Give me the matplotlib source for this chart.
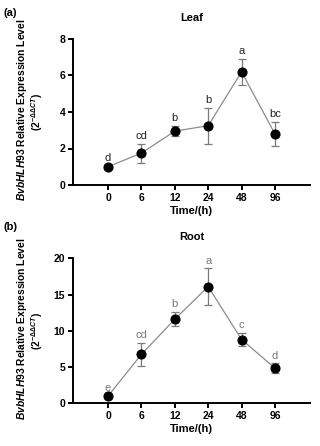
import matplotlib
matplotlib.use("Agg")
import matplotlib.pyplot as plt
import numpy as np

times = ["0", "6", "12", "24", "48", "96"]
leaf_mean = [1.0, 1.75, 2.95, 3.25, 6.2, 2.8]
leaf_err = [0.05, 0.52, 0.28, 0.98, 0.7, 0.65]
leaf_letters = ["d", "cd", "b", "b", "a", "bc"]
root_mean = [1.0, 6.75, 11.6, 16.1, 8.8, 4.85]
root_err = [0.1, 1.55, 1.0, 2.5, 0.9, 0.65]
root_letters = ["e", "cd", "b", "a", "c", "d"]

plt.rcParams['font.family'] = ['Liberation Sans', 'DejaVu Sans']
plt.rcParams['mathtext.fontset'] = 'custom'
plt.rcParams['mathtext.rm'] = 'Liberation Sans:bold'
plt.rcParams['mathtext.it'] = 'Liberation Sans:italic:bold'
plt.rcParams['mathtext.bf'] = 'Liberation Sans:bold'

fig = plt.figure(figsize=(3.2, 4.46), dpi=100)
W, H = 320, 446

def make_axes(top_px, bot_px):
    return fig.add_axes([73 / W, 1 - bot_px / H, (310 - 73) / W, (bot_px - top_px) / H])

panels = [
    (make_axes(39, 185), leaf_mean, leaf_err, leaf_letters, "Leaf", (0, 8), [0, 2, 4, 6, 8], "#222222", "(a)", 13),
    (make_axes(258.3, 403.3), root_mean, root_err, root_letters, "Root", (0, 20), [0, 5, 10, 15, 20], "#777777", "(b)", 227),
]

x = np.arange(len(times))
for ax, mean, err, letters, title, ylim, yticks, lcol, tag, tag_y in panels:
    ax.errorbar(x, mean, yerr=err, fmt='o', color='black', ecolor='#7a7a7a',
                elinewidth=0.9, capsize=3.2, capthick=0.9, markersize=6.3, zorder=3)
    ax.plot(x, mean, color='#8c8c8c', lw=0.9, zorder=2)
    for xi, m, e, lt in zip(x, mean, err, letters):
        ax.annotate(lt, (xi, m + e), xytext=(0, 2), textcoords='offset points',
                    ha='center', va='bottom', fontsize=8, color=lcol)
    ax.set_xlim(-1.05, 6.05)
    ax.set_ylim(*ylim)
    ax.set_yticks(yticks)
    ax.set_xticks(x)
    ax.set_xticklabels(times)
    for s in ['top', 'right']:
        ax.spines[s].set_visible(False)
    for s in ['left', 'bottom']:
        ax.spines[s].set_linewidth(1.4)
    ax.tick_params(direction='out', length=3.5, width=1.4, labelsize=7.5, pad=2)
    for lab in ax.get_xticklabels() + ax.get_yticklabels():
        lab.set_fontweight('bold')
    ax.set_title(title, fontsize=8, fontweight='bold', pad=13)
    ax.set_xlabel("Time/(h)", fontsize=8, fontweight='bold', labelpad=2.5)
    pos = ax.get_position()
    yc = (pos.y0 + pos.y1) / 2
    fig.text(22 / W, yc + 0.005, r"$\it{BvbHLH93}$ Relative Expression Level", rotation=90,
             ha='center', va='center', fontsize=7.4, fontweight='bold')
    fig.text(37 / W, yc, r"$(2^{-\Delta\Delta CT})$", rotation=90,
             ha='center', va='center', fontsize=7.4, fontweight='bold')
    fig.text(4 / W, 1 - tag_y / H, tag, ha='left', va='center', fontsize=8, fontweight='bold')

fig.savefig("out.png", dpi=100)
